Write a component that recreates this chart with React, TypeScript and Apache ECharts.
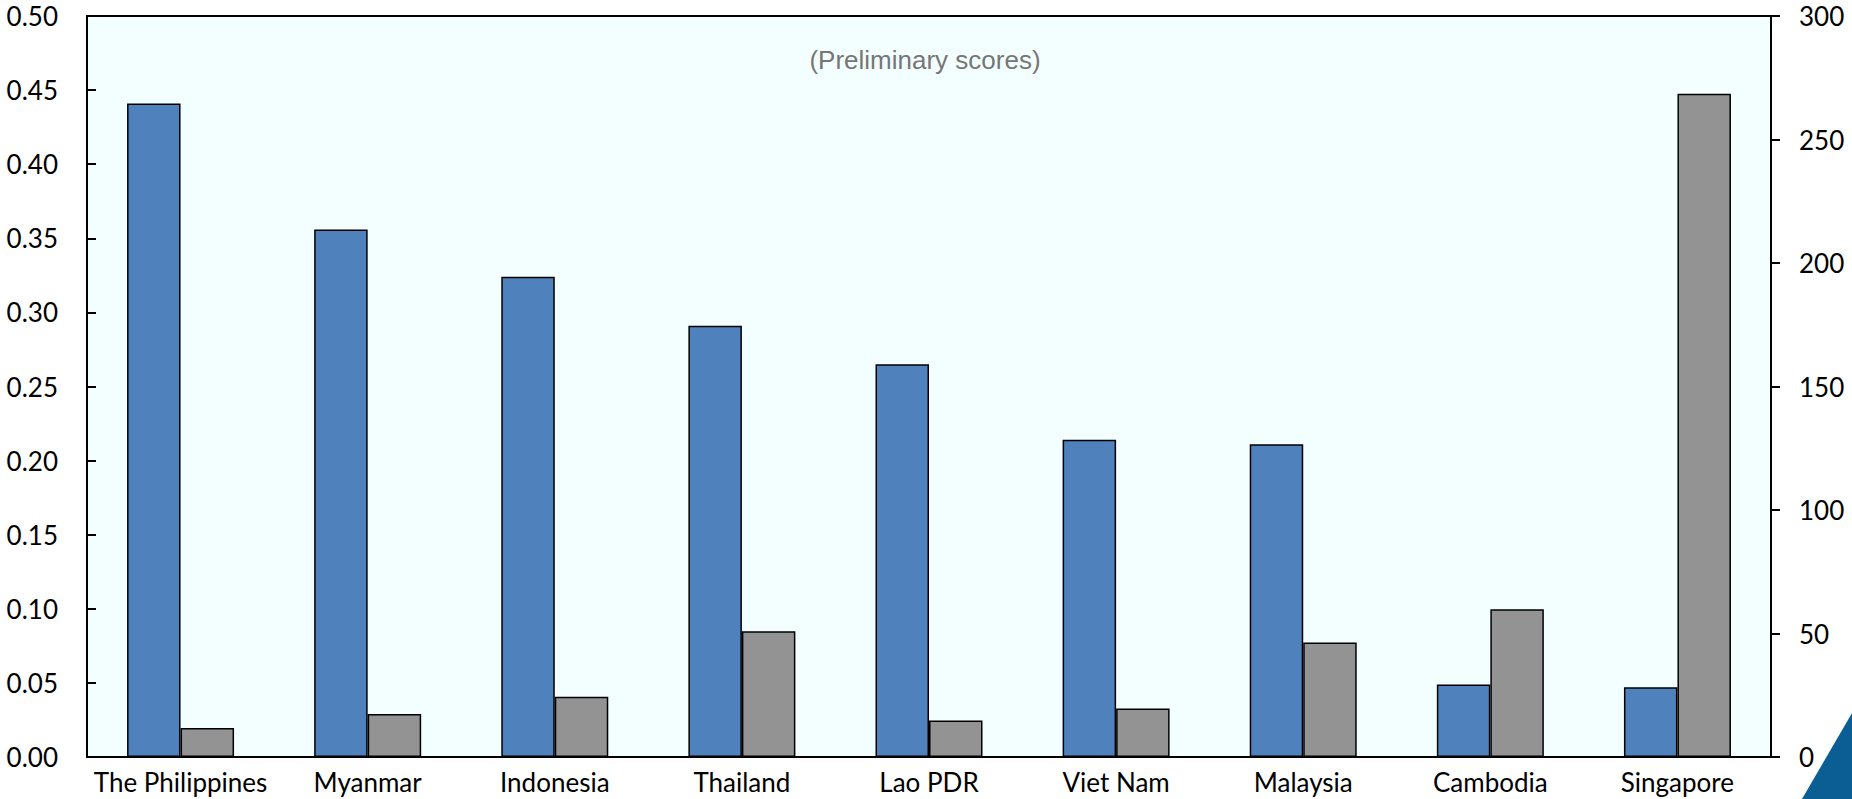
import React, { useEffect, useRef } from "react";
import * as echarts from "echarts";

const categories = ["The Philippines", "Myanmar", "Indonesia", "Thailand", "Lao PDR", "Viet Nam", "Malaysia", "Cambodia", "Singapore"];
const leftValues = [0.441, 0.356, 0.324, 0.291, 0.265, 0.214, 0.211, 0.049, 0.047];
const rightValues = [11.7, 17.4, 24.4, 50.9, 14.8, 19.6, 46.4, 59.8, 268.5];
const titleText = "(Preliminary scores)";

export default function App() {
  const ref = useRef<HTMLDivElement>(null);
  useEffect(() => {
    if (!ref.current) return;
    const chart = echarts.init(ref.current, null, { renderer: "svg" });
    const labelFont = { fontFamily: "Lato", fontSize: 26, color: "#000" };
    chart.setOption({
      animation: false,
      backgroundColor: "#ffffff",
      grid: {
        left: 87,
        right: 81,
        top: 16,
        bottom: 42,
        show: true,
        backgroundColor: "#F3FFFF",
        borderColor: "#000",
        borderWidth: 2,
      },
      title: {
        text: titleText,
        left: 920,
        top: 42,
        textAlign: "center",
        textStyle: { fontFamily: "Liberation Sans", fontSize: 26, fontWeight: "normal", color: "#767676" },
      },
      xAxis: {
        type: "category",
        data: categories,
        axisLine: { lineStyle: { color: "#000", width: 2 } },
        axisTick: { inside: true, length: 8, lineStyle: { color: "#000", width: 2 } },
        axisLabel: { ...labelFont, margin: 12, interval: 0, hideOverlap: false },
      },
      yAxis: [
        {
          type: "value",
          min: 0,
          max: 0.5,
          interval: 0.05,
          position: "left",
          splitLine: { show: false },
          axisLine: { show: true, lineStyle: { color: "#000", width: 2 } },
          axisTick: { show: true, inside: true, length: 9, lineStyle: { color: "#000", width: 2 } },
          axisLabel: { ...labelFont, margin: 29, formatter: (v: number) => v.toFixed(2) },
        },
        {
          type: "value",
          min: 0,
          max: 300,
          interval: 50,
          position: "right",
          splitLine: { show: false },
          axisLine: { show: true, lineStyle: { color: "#000", width: 2 } },
          axisTick: { show: true, inside: false, length: 9, lineStyle: { color: "#000", width: 2 } },
          axisLabel: { ...labelFont, margin: 28 },
        },
      ],
      series: [
        {
          type: "bar",
          yAxisIndex: 0,
          data: leftValues,
          barWidth: 53.5,
          barGap: "0%",
          itemStyle: { color: "#4F81BD", borderColor: "#000", borderWidth: 1.5 },
        },
        {
          type: "bar",
          yAxisIndex: 1,
          data: rightValues,
          barWidth: 53.5,
          barGap: "0%",
          itemStyle: { color: "#939393", borderColor: "#000", borderWidth: 1.5 },
        },
      ],
      graphic: [
        {
          type: "polygon",
          shape: { points: [[1852, 713], [1802, 799], [1852, 799]] },
          style: { fill: "#0B5E94" },
        },
      ],
    });
    return () => chart.dispose();
  }, []);
  return <div ref={ref} style={{ position: "absolute", left: 0, top: 0, width: 1852, height: 799 }} />;
}
